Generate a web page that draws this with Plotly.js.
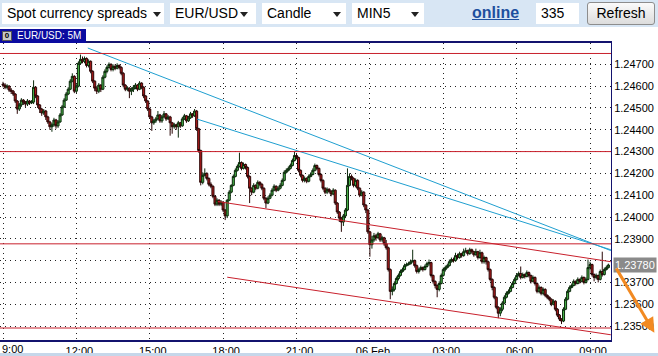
<!DOCTYPE html>
<html><head><meta charset="utf-8">
<script src="https://cdn.plot.ly/plotly-3.0.1.min.js"></script>
<style>
html,body{margin:0;padding:0;width:658px;height:356px;overflow:hidden;background:#fff;font-family:"Liberation Sans",Arial,sans-serif;}
#chart{position:absolute;left:0;top:0;width:658px;height:356px;}
#bar{position:absolute;left:0;top:0;width:658px;height:27px;background:#d8e6f4;z-index:5;}
.sel{position:absolute;top:3px;height:21px;background:#fff;font-size:14px;line-height:21px;color:#000;padding-left:5px;box-sizing:border-box;white-space:nowrap;}
.arr{position:absolute;top:9px;width:0;height:0;border-left:4px solid transparent;border-right:4px solid transparent;border-top:5px solid #222;}
#online{position:absolute;left:472px;top:3px;font-size:16px;font-weight:bold;color:#1d4f9e;text-decoration:underline;line-height:20px;}
#num{position:absolute;left:536px;top:3px;width:43px;height:21px;background:#fff;font-size:14px;line-height:21px;padding-left:5px;box-sizing:border-box;}
#refresh{position:absolute;left:587px;top:2px;width:68px;height:23px;box-sizing:border-box;border:1px solid #8d8d8d;border-radius:3px;background:linear-gradient(#fbfbfb,#dcdcdc);font-size:14px;line-height:21px;text-align:center;}
#tag{position:absolute;left:0;top:29px;width:86px;height:14px;background:#0b0ba0;z-index:5;overflow:hidden;}
#tagicon{position:absolute;left:2px;top:2px;width:10px;height:10px;background:#c8c8c8;border:1px solid #555;box-sizing:border-box;font-size:8px;line-height:8px;text-align:center;color:#000;font-weight:bold;}
#tagtext{position:absolute;left:17px;top:0;font-size:10px;line-height:14px;color:#fff;white-space:nowrap;}
#foot{position:absolute;left:0;top:353px;width:658px;height:3px;background:#c6d7ea;z-index:5;}
</style>
</head><body>
<div id="chart"></div>
<div id="bar">
  <div class="sel" style="left:2px;width:162px;">Spot currency spreads<div class="arr" style="left:151px"></div></div>
  <div class="sel" style="left:170px;width:86px;">EUR/USD<div class="arr" style="left:70px"></div></div>
  <div class="sel" style="left:262px;width:84px;">Candle<div class="arr" style="left:71px"></div></div>
  <div class="sel" style="left:352px;width:72px;">MIN5<div class="arr" style="left:59px"></div></div>
  <div id="online">online</div>
  <div id="num">335</div>
  <div id="refresh">Refresh</div>
</div>
<div id="tag"><div id="tagicon">0</div><div id="tagtext">EUR/USD: 5M</div></div>
<div id="foot"></div>
<script>
// ---- data: EUR/USD 5-minute candles, 05 Feb 09:00 onward ----
const startMinute = 9 * 60;
const stepMinutes = 5;

const opens = [
1.24609,1.24605,1.24595,1.24600,1.24582,1.24577,1.24564,1.24532,1.24495,1.24514,
1.24536,1.24527,1.24518,1.24532,1.24523,1.24527,1.24595,1.24555,1.24514,1.24495,
1.24477,1.24486,1.24459,1.24436,1.24414,1.24423,1.24445,1.24418,1.24436,1.24468,
1.24505,1.24536,1.24564,1.24586,1.24623,1.24645,1.24577,1.24600,1.24705,1.24723,
1.24714,1.24727,1.24695,1.24714,1.24668,1.24623,1.24591,1.24577,1.24605,1.24586,
1.24641,1.24668,1.24686,1.24700,1.24677,1.24691,1.24682,1.24695,1.24686,1.24659,
1.24605,1.24586,1.24591,1.24577,1.24586,1.24595,1.24605,1.24586,1.24614,1.24595,
1.24555,1.24532,1.24495,1.24459,1.24432,1.24441,1.24450,1.24468,1.24441,1.24459,
1.24473,1.24450,1.24459,1.24432,1.24414,1.24423,1.24414,1.24432,1.24418,1.24450,
1.24464,1.24441,1.24455,1.24473,1.24464,1.24486,1.24405,1.24305,1.24159,1.24191,
1.24200,1.24177,1.24150,1.24141,1.24095,1.24059,1.24077,1.24059,1.24068,1.24032,
1.24005,1.24077,1.24114,1.24145,1.24186,1.24214,1.24232,1.24250,1.24223,1.24241,
1.24227,1.24186,1.24132,1.24114,1.24145,1.24132,1.24159,1.24150,1.24132,1.24086,
1.24064,1.24086,1.24100,1.24123,1.24141,1.24123,1.24132,1.24145,1.24168,1.24205,
1.24214,1.24223,1.24236,1.24259,1.24282,1.24273,1.24214,1.24191,1.24168,1.24177,
1.24164,1.24186,1.24195,1.24214,1.24236,1.24223,1.24195,1.24168,1.24132,1.24114,
1.24127,1.24118,1.24105,1.24123,1.24064,1.24023,1.23995,1.23977,1.24005,1.24032,
1.24145,1.24186,1.24177,1.24145,1.24168,1.24132,1.24100,1.24114,1.24055,1.24032,
1.23932,1.23873,1.23895,1.23914,1.23905,1.23923,1.23895,1.23905,1.23877,1.23859,
1.23759,1.23659,1.23668,1.23695,1.23718,1.23732,1.23750,1.23759,1.23777,1.23782,
1.23786,1.23795,1.23800,1.23777,1.23750,1.23759,1.23768,1.23759,1.23773,1.23786,
1.23791,1.23732,1.23705,1.23686,1.23668,1.23695,1.23732,1.23759,1.23768,1.23777,
1.23795,1.23805,1.23800,1.23823,1.23814,1.23832,1.23823,1.23841,1.23845,1.23832,
1.23850,1.23841,1.23827,1.23841,1.23814,1.23836,1.23795,1.23814,1.23795,1.23759,
1.23714,1.23677,1.23632,1.23586,1.23559,1.23577,1.23605,1.23632,1.23650,1.23659,
1.23677,1.23695,1.23714,1.23732,1.23741,1.23723,1.23736,1.23727,1.23745,1.23732,
1.23705,1.23723,1.23695,1.23659,1.23677,1.23650,1.23668,1.23641,1.23632,1.23623,
1.23600,1.23614,1.23577,1.23550,1.23532,1.23523,1.23577,1.23623,1.23659,1.23677,
1.23686,1.23705,1.23695,1.23714,1.23705,1.23723,1.23700,1.23714,1.23768,1.23782,
1.23736,1.23723,1.23732,1.23714,1.23750,1.23736,1.23759,1.23768];

const highs = [
1.24620,1.24614,1.24609,1.24605,1.24591,1.24582,1.24568,1.24536,1.24523,1.24545,
1.24541,1.24532,1.24541,1.24536,1.24536,1.24627,1.24600,1.24559,1.24518,1.24500,
1.24495,1.24491,1.24464,1.24441,1.24432,1.24455,1.24450,1.24445,1.24477,1.24514,
1.24545,1.24573,1.24595,1.24632,1.24659,1.24650,1.24609,1.24714,1.24745,1.24736,
1.24736,1.24732,1.24723,1.24718,1.24673,1.24627,1.24600,1.24614,1.24609,1.24650,
1.24677,1.24695,1.24709,1.24705,1.24700,1.24700,1.24705,1.24700,1.24691,1.24664,
1.24609,1.24600,1.24595,1.24595,1.24605,1.24614,1.24609,1.24623,1.24618,1.24600,
1.24559,1.24536,1.24500,1.24464,1.24450,1.24459,1.24486,1.24473,1.24468,1.24486,
1.24477,1.24468,1.24464,1.24436,1.24432,1.24427,1.24441,1.24436,1.24459,1.24473,
1.24468,1.24464,1.24482,1.24477,1.24495,1.24491,1.24409,1.24309,1.24205,1.24223,
1.24205,1.24182,1.24159,1.24145,1.24100,1.24086,1.24082,1.24077,1.24073,1.24036,
1.24082,1.24123,1.24150,1.24195,1.24223,1.24241,1.24295,1.24255,1.24250,1.24245,
1.24232,1.24191,1.24136,1.24155,1.24150,1.24168,1.24164,1.24155,1.24136,1.24091,
1.24095,1.24109,1.24132,1.24150,1.24145,1.24141,1.24155,1.24177,1.24214,1.24223,
1.24232,1.24245,1.24268,1.24300,1.24291,1.24277,1.24218,1.24195,1.24186,1.24182,
1.24195,1.24205,1.24223,1.24245,1.24241,1.24227,1.24200,1.24173,1.24136,1.24136,
1.24132,1.24123,1.24132,1.24127,1.24068,1.24027,1.24000,1.24014,1.24041,1.24223,
1.24200,1.24195,1.24182,1.24177,1.24173,1.24136,1.24123,1.24118,1.24059,1.24036,
1.23936,1.23914,1.23927,1.23923,1.23932,1.23927,1.23914,1.23909,1.23895,1.23864,
1.23764,1.23682,1.23705,1.23727,1.23741,1.23759,1.23768,1.23786,1.23791,1.23795,
1.23805,1.23850,1.23805,1.23782,1.23768,1.23777,1.23773,1.23782,1.23795,1.23805,
1.23795,1.23736,1.23709,1.23691,1.23705,1.23741,1.23768,1.23777,1.23786,1.23805,
1.23814,1.23814,1.23836,1.23832,1.23841,1.23836,1.23855,1.23859,1.23850,1.23859,
1.23855,1.23845,1.23855,1.23845,1.23850,1.23841,1.23823,1.23818,1.23800,1.23764,
1.23718,1.23682,1.23636,1.23591,1.23586,1.23614,1.23641,1.23659,1.23668,1.23686,
1.23705,1.23723,1.23741,1.23750,1.23773,1.23745,1.23741,1.23755,1.23750,1.23736,
1.23732,1.23727,1.23700,1.23686,1.23682,1.23677,1.23673,1.23645,1.23636,1.23627,
1.23623,1.23618,1.23582,1.23555,1.23536,1.23586,1.23632,1.23668,1.23686,1.23695,
1.23714,1.23709,1.23723,1.23718,1.23732,1.23727,1.23723,1.23805,1.23795,1.23786,
1.23741,1.23741,1.23736,1.23759,1.23841,1.23768,1.23777,1.23786];

const lows = [
1.24595,1.24586,1.24586,1.24573,1.24564,1.24555,1.24523,1.24473,1.24486,1.24505,
1.24514,1.24505,1.24509,1.24514,1.24518,1.24518,1.24545,1.24500,1.24477,1.24464,
1.24468,1.24445,1.24427,1.24400,1.24391,1.24414,1.24405,1.24409,1.24432,1.24464,
1.24500,1.24532,1.24559,1.24582,1.24618,1.24568,1.24568,1.24595,1.24700,1.24705,
1.24705,1.24686,1.24686,1.24659,1.24614,1.24577,1.24564,1.24568,1.24573,1.24582,
1.24636,1.24659,1.24682,1.24668,1.24668,1.24673,1.24677,1.24677,1.24650,1.24595,
1.24577,1.24577,1.24545,1.24559,1.24573,1.24586,1.24577,1.24582,1.24586,1.24545,
1.24523,1.24486,1.24450,1.24395,1.24423,1.24432,1.24445,1.24432,1.24432,1.24455,
1.24441,1.24445,1.24373,1.24382,1.24405,1.24400,1.24364,1.24409,1.24414,1.24445,
1.24432,1.24436,1.24450,1.24455,1.24459,1.24395,1.24295,1.24145,1.24150,1.24186,
1.24168,1.24141,1.24132,1.24086,1.24050,1.24050,1.24050,1.24050,1.24023,1.23986,
1.23995,1.24073,1.24109,1.24141,1.24182,1.24209,1.24227,1.24214,1.24218,1.24218,
1.24177,1.24064,1.24100,1.24109,1.24123,1.24127,1.24141,1.24123,1.24077,1.24041,
1.24059,1.24082,1.24095,1.24118,1.24114,1.24118,1.24127,1.24141,1.24164,1.24200,
1.24209,1.24218,1.24232,1.24255,1.24264,1.24205,1.24182,1.24159,1.24159,1.24155,
1.24159,1.24182,1.24191,1.24209,1.24214,1.24186,1.24159,1.24123,1.24105,1.24105,
1.24109,1.24095,1.24100,1.24055,1.24014,1.23977,1.23932,1.23959,1.23995,1.24027,
1.24141,1.24168,1.24136,1.24136,1.24123,1.24091,1.24095,1.24045,1.24018,1.23923,
1.23818,1.23855,1.23886,1.23891,1.23900,1.23886,1.23886,1.23868,1.23850,1.23750,
1.23623,1.23641,1.23659,1.23691,1.23709,1.23727,1.23745,1.23755,1.23773,1.23777,
1.23782,1.23791,1.23768,1.23741,1.23741,1.23755,1.23750,1.23755,1.23768,1.23777,
1.23723,1.23695,1.23673,1.23632,1.23659,1.23691,1.23727,1.23750,1.23764,1.23773,
1.23791,1.23791,1.23795,1.23805,1.23809,1.23814,1.23818,1.23836,1.23823,1.23827,
1.23832,1.23818,1.23823,1.23805,1.23809,1.23786,1.23786,1.23782,1.23750,1.23705,
1.23664,1.23623,1.23577,1.23536,1.23545,1.23568,1.23600,1.23627,1.23645,1.23655,
1.23673,1.23691,1.23709,1.23727,1.23714,1.23718,1.23718,1.23723,1.23723,1.23695,
1.23700,1.23686,1.23650,1.23650,1.23641,1.23641,1.23632,1.23623,1.23614,1.23591,
1.23595,1.23568,1.23541,1.23523,1.23509,1.23518,1.23573,1.23618,1.23655,1.23673,
1.23682,1.23686,1.23691,1.23695,1.23700,1.23691,1.23695,1.23709,1.23759,1.23727,
1.23705,1.23714,1.23700,1.23709,1.23727,1.23732,1.23755,1.23764];

const closes = [
1.24605,1.24595,1.24600,1.24582,1.24577,1.24564,1.24532,1.24495,1.24514,1.24536,
1.24527,1.24518,1.24532,1.24523,1.24527,1.24595,1.24555,1.24514,1.24495,1.24477,
1.24486,1.24459,1.24436,1.24414,1.24423,1.24445,1.24418,1.24436,1.24468,1.24505,
1.24536,1.24564,1.24586,1.24623,1.24645,1.24577,1.24600,1.24705,1.24723,1.24714,
1.24727,1.24695,1.24714,1.24668,1.24623,1.24591,1.24577,1.24605,1.24586,1.24641,
1.24668,1.24686,1.24700,1.24677,1.24691,1.24682,1.24695,1.24686,1.24659,1.24605,
1.24586,1.24591,1.24577,1.24586,1.24595,1.24605,1.24586,1.24614,1.24595,1.24555,
1.24532,1.24495,1.24459,1.24432,1.24441,1.24450,1.24468,1.24441,1.24459,1.24473,
1.24450,1.24459,1.24432,1.24414,1.24423,1.24414,1.24432,1.24418,1.24450,1.24464,
1.24441,1.24455,1.24473,1.24464,1.24486,1.24405,1.24305,1.24159,1.24191,1.24200,
1.24177,1.24150,1.24141,1.24095,1.24059,1.24077,1.24059,1.24068,1.24032,1.24005,
1.24077,1.24114,1.24145,1.24186,1.24214,1.24232,1.24250,1.24223,1.24241,1.24227,
1.24186,1.24132,1.24114,1.24145,1.24132,1.24159,1.24150,1.24132,1.24086,1.24064,
1.24086,1.24100,1.24123,1.24141,1.24123,1.24132,1.24145,1.24168,1.24205,1.24214,
1.24223,1.24236,1.24259,1.24282,1.24273,1.24214,1.24191,1.24168,1.24177,1.24164,
1.24186,1.24195,1.24214,1.24236,1.24223,1.24195,1.24168,1.24132,1.24114,1.24127,
1.24118,1.24105,1.24123,1.24064,1.24023,1.23995,1.23977,1.24005,1.24032,1.24145,
1.24186,1.24177,1.24145,1.24168,1.24132,1.24100,1.24114,1.24055,1.24032,1.23932,
1.23873,1.23895,1.23914,1.23905,1.23923,1.23895,1.23905,1.23877,1.23859,1.23759,
1.23659,1.23668,1.23695,1.23718,1.23732,1.23750,1.23759,1.23777,1.23782,1.23786,
1.23795,1.23800,1.23777,1.23750,1.23759,1.23768,1.23759,1.23773,1.23786,1.23791,
1.23732,1.23705,1.23686,1.23668,1.23695,1.23732,1.23759,1.23768,1.23777,1.23795,
1.23805,1.23800,1.23823,1.23814,1.23832,1.23823,1.23841,1.23845,1.23832,1.23850,
1.23841,1.23827,1.23841,1.23814,1.23836,1.23795,1.23814,1.23795,1.23759,1.23714,
1.23677,1.23632,1.23586,1.23559,1.23577,1.23605,1.23632,1.23650,1.23659,1.23677,
1.23695,1.23714,1.23732,1.23741,1.23723,1.23736,1.23727,1.23745,1.23732,1.23705,
1.23723,1.23695,1.23659,1.23677,1.23650,1.23668,1.23641,1.23632,1.23623,1.23600,
1.23614,1.23577,1.23550,1.23532,1.23523,1.23577,1.23623,1.23659,1.23677,1.23686,
1.23705,1.23695,1.23714,1.23705,1.23723,1.23700,1.23714,1.23768,1.23782,1.23736,
1.23723,1.23732,1.23714,1.23750,1.23736,1.23759,1.23768,1.23780];

const lastPrice = 1.23780;

// horizontal support / resistance levels
const levelPrices = [1.24750, 1.24300, 1.23877, 1.23491];

// drawn trendlines: [start time, end time] and [start price, end price]
const cyanLineA_t = ['2009-02-05 12:28', '2009-02-06 09:51'];
const cyanLineA_p = [1.24775, 1.23846];
const cyanLineB_t = ['2009-02-05 16:56', '2009-02-06 09:51'];
const cyanLineB_p = [1.24449, 1.23850];
const redUpper_t = ['2009-02-05 17:47', '2009-02-06 09:51'];
const redUpper_p = [1.24071, 1.23795];
const redLower_t = ['2009-02-05 18:10', '2009-02-06 09:51'];
const redLower_p = [1.23724, 1.23460];

// axis ticks
const xTickTimes = ['2009-02-05 09:00','2009-02-05 12:00','2009-02-05 15:00','2009-02-05 18:00',
  '2009-02-05 21:00','2009-02-06 00:00','2009-02-06 03:00','2009-02-06 06:00','2009-02-06 09:00'];
const xTickLabels = ['9:00','12:00','15:00','18:00','21:00','06 Feb','03:00','06:00','09:00'];
const yTickValues = [1.235,1.236,1.237,1.238,1.239,1.240,1.241,1.242,1.243,1.244,1.245,1.246,1.247];

// ---- build times ----
function pad(n){ return String(n).padStart(2,'0'); }
const times = closes.map((_, i) => {
  const m = startMinute + i * stepMinutes;
  const day = 5 + Math.floor(m / 1440);
  const mm = m % 1440;
  return '2009-02-' + pad(day) + ' ' + pad(Math.floor(mm / 60)) + ':' + pad(mm % 60);
});

const CYAN = '#1f9fd0', RED = '#c8202c';
const fontFam = '"Liberation Sans", Arial, sans-serif';
const fontSpec = {family:fontFam, size:11, color:'#000'};

// first x label sits at the left edge: draw it as a left-anchored annotation
const xTickText = xTickLabels.map((t, i) => i === 0 ? '' : t);
// price box hides the nearest y label
const yTickText = yTickValues.map(v => Math.abs(v - lastPrice) < 0.0004 ? '' : v.toFixed(5));

const traces = [
  {type:'candlestick', x:times, open:opens, high:highs, low:lows, close:closes,
   increasing:{fillcolor:'#47b047', line:{color:'#0c2a0c', width:1}},
   decreasing:{fillcolor:'#b01c1c', line:{color:'#2a0606', width:1}},
   whiskerwidth:0, hoverinfo:'skip'},
  {type:'scatter', mode:'lines', x:redUpper_t, y:redUpper_p, line:{color:RED, width:1}, hoverinfo:'skip'},
  {type:'scatter', mode:'lines', x:redLower_t, y:redLower_p, line:{color:RED, width:1}, hoverinfo:'skip'},
  {type:'scatter', mode:'lines', x:cyanLineA_t, y:cyanLineA_p, line:{color:CYAN, width:1}, hoverinfo:'skip'},
  {type:'scatter', mode:'lines', x:cyanLineB_t, y:cyanLineB_p, line:{color:CYAN, width:1}, hoverinfo:'skip'}
];

const layout = {
  width:658, height:356,
  margin:{l:0, r:47, t:43, b:16},
  paper_bgcolor:'#ffffff', plot_bgcolor:'#ffffff',
  showlegend:false, boxgap:0, boxgroupgap:0,
  xaxis:{type:'date', range:['2009-02-05 08:52:38','2009-02-06 09:51:26'],
    rangeslider:{visible:false}, tickmode:'array', tickvals:xTickTimes, ticktext:xTickText,
    showgrid:true, gridcolor:'#222', gridwidth:1, griddash:'1px,4px',
    showline:true, linecolor:'#13136e', linewidth:2, mirror:true,
    ticks:'', tickfont:fontSpec, ticklabelshift:3,
    zeroline:false, fixedrange:true},
  yaxis:{range:[1.23436, 1.24798], side:'right', tickmode:'array', tickvals:yTickValues, ticktext:yTickText,
    showgrid:true, gridcolor:'#222', gridwidth:1, griddash:'1px,4px',
    showline:true, linecolor:'#13136e', linewidth:1, mirror:true,
    ticks:'', tickfont:fontSpec, zeroline:false, fixedrange:true},
  shapes: levelPrices.map(p => ({type:'line', xref:'paper', yref:'y', x0:0, x1:1, y0:p, y1:p,
    line:{color:RED, width:1}, layer:'above'})),
  annotations:[
    {xref:'x', yref:'paper', x:xTickTimes[0], y:0, yanchor:'top', xanchor:'left', xshift:-3, yshift:-1,
     text:xTickLabels[0], showarrow:false, font:fontSpec},
    {xref:'paper', yref:'y', x:1, y:lastPrice, xanchor:'left', xshift:2, text:lastPrice.toFixed(5),
     showarrow:false, bgcolor:'#8a8a8a', font:{family:fontFam, size:11, color:'#ffffff'}, borderpad:1},
    {xref:'paper', yref:'paper', x:1.071, y:0.024, text:'', showarrow:true, ax:-39, ay:-66,
     arrowcolor:'#f28a22', arrowwidth:3, arrowhead:2, arrowsize:1}
  ]
};

Plotly.newPlot('chart', traces, layout, {staticPlot:true, displayModeBar:false});
</script>
</body></html>
